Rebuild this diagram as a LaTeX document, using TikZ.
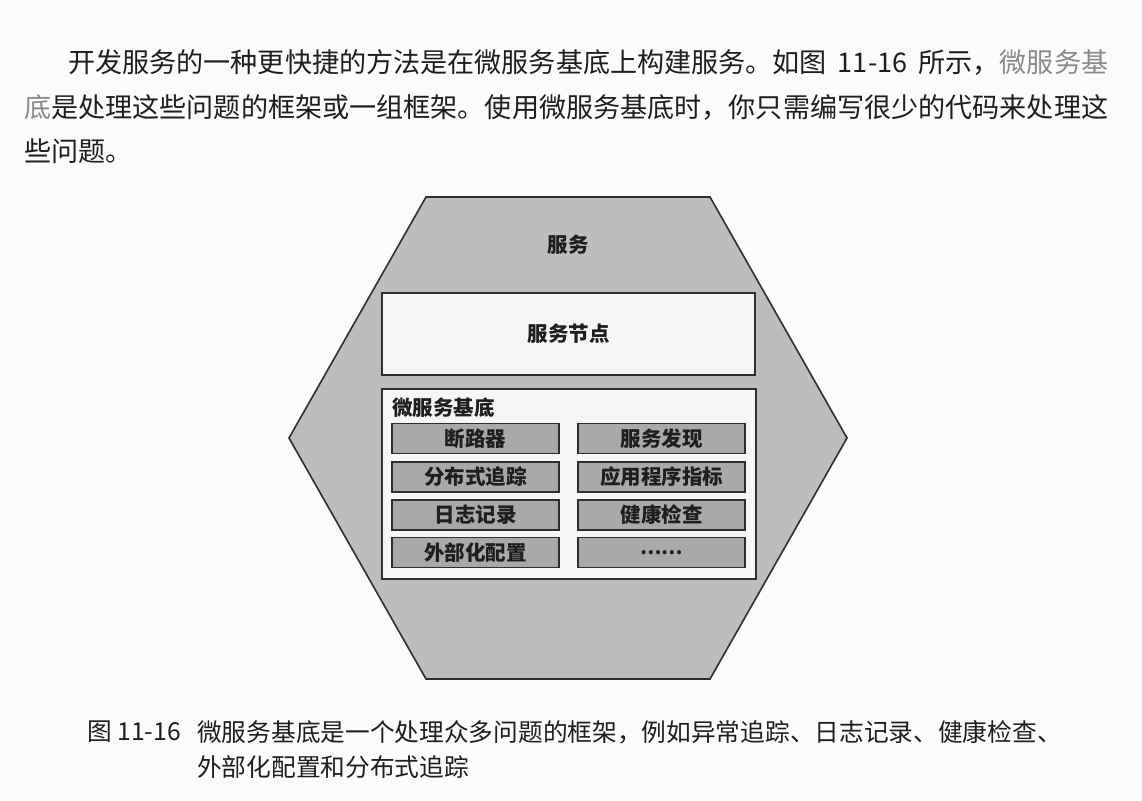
\documentclass[tikz,border=0pt]{standalone}
\usepackage{fontspec}
\setmainfont{Noto Sans CJK SC}
\newfontfamily\cjk{Noto Sans CJK SC}
\definecolor{pagebg}{HTML}{FBFBFA}
\definecolor{ink}{HTML}{1E1E1E}
\definecolor{linkgray}{HTML}{8A8A8A}
\definecolor{hexfill}{HTML}{BDBDBD}
\definecolor{cellfill}{HTML}{A9A9A9}
\definecolor{boxfill}{HTML}{F6F6F6}
\definecolor{edge}{HTML}{2E2E2E}
\tikzset{
  bodyline/.style={anchor=west, inner sep=0pt, text=ink, font=\cjk\fontsize{27.1}{30}\selectfont},
  capline/.style={anchor=west, inner sep=0pt, text=ink, font=\cjk\fontsize{24.7}{28}\selectfont},
  hexshape/.style={draw=edge, fill=hexfill, line width=1.6pt, line join=miter},
  whitebox/.style={draw=edge, fill=boxfill, line width=1.5pt, inner sep=0pt},
  cell/.style={draw=edge, fill=cellfill, line width=1.4pt, inner sep=0pt,
    minimum width=167pt, minimum height=30pt, text=ink,
    font=\cjk\bfseries\fontsize{20.5}{22}\selectfont},
  label/.style={inner sep=0pt, text=ink, font=\cjk\bfseries\fontsize{20.5}{22}\selectfont}
}
\begin{document}
\begin{tikzpicture}[x=1pt,y=-1pt]
\fill[pagebg] (0,0) rectangle (1142,800);
\useasboundingbox (0,0) rectangle (1142,800);

% paragraph above the figure
\node[bodyline] (p1) at (68,62) {\hbox to 1040pt{开发服务的一种更快捷的方法是在微服务基底上构建服务。如图\hfil 11-16\hfil 所示，\textcolor{linkgray}{微服务基}}};
\node[bodyline] (p2) at (24,107) {\textcolor{linkgray}{底}是处理这些问题的框架或一组框架。使用微服务基底时，你只需编写很少的代码来处理这};
\node[bodyline] (p3) at (24,151) {些问题。};

% the service hexagon
\draw[hexshape] (426,197) -- (710,197) -- (847,438) -- (710,679) -- (426,679) -- (289,438) -- cycle;
\node[label] (svc) at (568,245) {服务};

% service node box
\node[whitebox, minimum width=373pt, minimum height=82pt, text=ink,
      font=\cjk\bfseries\fontsize{20.5}{22}\selectfont] (svcnode) at (568.5,334) {服务节点};

% microservice substrate box
\node[whitebox, minimum width=374pt, minimum height=190pt] (chassis) at (569,484) {};
\node[label, anchor=west] (chassislbl) at (392,408) {微服务基底};

% concerns handled by the substrate
\node[cell] (c11) at (475.5,438.5) {断路器};
\node[cell] (c12) at (661.5,438.5) {服务发现};
\node[cell] (c21) at (475.5,477) {分布式追踪};
\node[cell] (c22) at (661.5,477) {应用程序指标};
\node[cell] (c31) at (475.5,515) {日志记录};
\node[cell] (c32) at (661.5,515) {健康检查};
\node[cell] (c41) at (475.5,552.5) {外部化配置};
\node[cell, font=\cjk\bfseries\fontsize{19}{20}\selectfont] (c42) at (661.5,552.5) {……};

% caption
\node[capline] (capnum) at (87,732) {图 11-16};
\node[capline] (cap1) at (197,732) {微服务基底是一个处理众多问题的框架，例如异常追踪、日志记录、健康检查、};
\node[capline] (cap2) at (197,767) {外部化配置和分布式追踪};
\end{tikzpicture}
\end{document}
